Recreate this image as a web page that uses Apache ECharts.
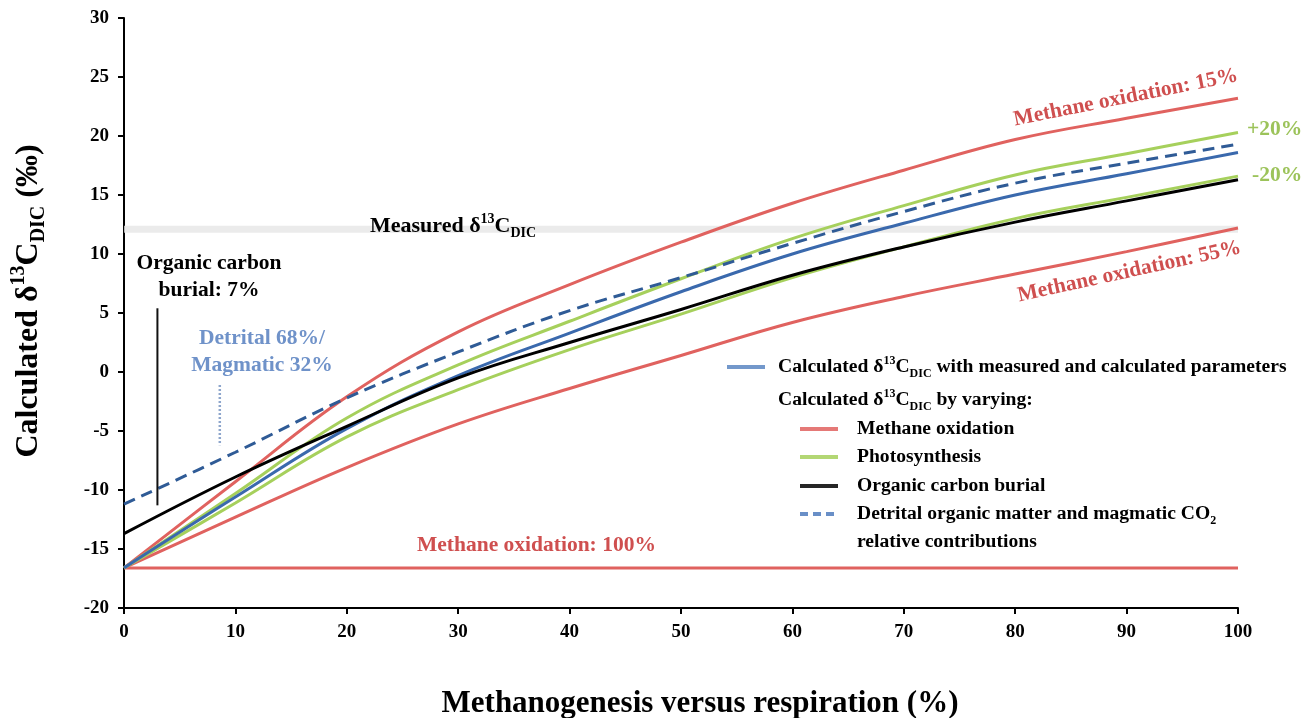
<!DOCTYPE html>
<html>
<head>
<meta charset="utf-8">
<script src="https://cdn.jsdelivr.net/npm/echarts@6/dist/echarts.min.js"></script>
<style>
html,body{margin:0;padding:0;background:#fff;}
#chart{width:1314px;height:718px;}
</style>
</head>
<body>
<div id="chart"></div>
<script>
// ---- data ----
const xValues = [0, 10, 20, 30, 40, 50, 60, 70, 80, 90, 100];
const methane15 = [-16.6, -9.3, -2.1, 3.4, 7.4, 11.0, 14.3, 17.1, 19.7, 21.5, 23.2];
const methane55 = [-16.6, -12.3, -8.1, -4.4, -1.4, 1.4, 4.2, 6.4, 8.3, 10.2, 12.2];
const methane100 = [-16.6, -16.6, -16.6, -16.6, -16.6, -16.6, -16.6, -16.6, -16.6, -16.6, -16.6];
const photoPlus20 = [-16.6, -10.3, -3.9, 0.6, 4.3, 7.9, 11.3, 14.1, 16.7, 18.5, 20.3];
const photoMinus20 = [-16.6, -11.1, -5.5, -1.5, 1.9, 4.9, 8.0, 10.6, 13.0, 14.8, 16.6];
const calculated = [-16.6, -10.6, -4.8, -0.3, 3.3, 6.8, 10.0, 12.6, 15.0, 16.8, 18.6];
const burial7 = [-13.7, -8.9, -4.6, -0.5, 2.5, 5.3, 8.2, 10.6, 12.7, 14.5, 16.3];
const detrital68 = [-11.2, -6.8, -2.2, 1.7, 5.2, 8.0, 10.9, 13.6, 16.0, 17.7, 19.3];
const measuredX = [0, 100];
const measuredValue = [12.1, 12.1];
const burialMarkerX = [3, 3];
const burialMarkerY = [5.4, -11.3];
const detritalMarkerX = [8.6, 8.6];
const detritalMarkerY = [-1.1, -6.2];
const xTicks = { min: 0, max: 100, interval: 10 };
const yTicks = { min: -20, max: 30, interval: 5 };

// ---- styles ----
const SERIF = '"Liberation Serif", "DejaVu Serif", serif';
const RED = '#e0625f';
const RED_TEXT = '#cf4f4f';
const GREEN = '#a6d05c';
const GREEN_TEXT = '#9cc35a';
const BLUE = '#3a69ad';
const DASH = '#2f5b96';
const BLUE_TEXT = '#6f92c9';

function pairs(xs, ys) { return xs.map((x, i) => [x, ys[i]]); }

function curve(name, ys, color, z, extra) {
  return Object.assign({
    name: name, type: 'line', data: pairs(xValues, ys),
    smooth: 0.4, showSymbol: false, symbol: 'none',
    lineStyle: { color: color, width: 3 }, z: z, silent: true, animation: false
  }, extra || {});
}

function richBase(size, color) {
  const sub = Math.round(size * 0.62);
  return {
    t: { fontFamily: SERIF, fontWeight: 'bold', fontSize: size, color: color, lineHeight: Math.round(size * 1.25), verticalAlign: 'middle' },
    sup: { fontFamily: SERIF, fontWeight: 'bold', fontSize: sub, color: color, lineHeight: Math.round(size * 0.85), verticalAlign: 'top' },
    sub: { fontFamily: SERIF, fontWeight: 'bold', fontSize: sub, color: color, lineHeight: Math.round(size * 0.75), verticalAlign: 'bottom' }
  };
}

function txt(x, y, text, size, color, opts) {
  return Object.assign({
    type: 'text', x: x, y: y, silent: true, z: 100,
    style: Object.assign({ text: text, font: 'bold ' + size + 'px ' + SERIF, fill: color, textVerticalAlign: 'middle' }, (opts && opts.style) || {})
  }, (opts && opts.el) || {});
}

function richTxt(x, y, text, size, color, align, rotation) {
  return {
    type: 'text', x: x, y: y, silent: true, z: 100, rotation: rotation || 0,
    style: { text: text, rich: richBase(size, color), fill: color, align: align || 'left', verticalAlign: 'middle' }
  };
}

function swatch(x1, x2, y, color, dash) {
  return {
    type: 'line', silent: true, z: 100,
    shape: { x1: x1, y1: y, x2: x2, y2: y },
    style: { stroke: color, lineWidth: 4, lineDash: dash || null, opacity: 0.85 }
  };
}

const chart = echarts.init(document.getElementById('chart'), null, { renderer: 'canvas' });

const LEG = 19.6;
const ANN = 21.5;

const option = {
  backgroundColor: '#ffffff',
  animation: false,
  grid: { left: 124, right: 76, top: 18, bottom: 110, outerBoundsMode: 'none' },
  xAxis: {
    type: 'value', min: xTicks.min, max: xTicks.max, interval: xTicks.interval,
    axisLine: { show: true, onZero: false, lineStyle: { color: '#000', width: 2 } },
    axisTick: { show: true, length: 6, lineStyle: { color: '#000', width: 2 } },
    axisLabel: { fontFamily: SERIF, fontWeight: 'bold', fontSize: 19, color: '#000', margin: 15 },
    splitLine: { show: false }
  },
  yAxis: {
    type: 'value', min: yTicks.min, max: yTicks.max, interval: yTicks.interval,
    axisLine: { show: true, onZero: false, lineStyle: { color: '#000', width: 2 } },
    axisTick: { show: true, length: 6, lineStyle: { color: '#000', width: 2 } },
    axisLabel: { fontFamily: SERIF, fontWeight: 'bold', fontSize: 19, color: '#000', margin: 15 },
    splitLine: { show: false }
  },
  series: [
    {
      name: 'Measured', type: 'line', data: pairs(measuredX, measuredValue),
      showSymbol: false, symbol: 'none', silent: true, z: 1,
      lineStyle: { color: '#e6e6e6', width: 7, opacity: 0.8 }
    },
    curve('Methane oxidation 100%', methane100, RED, 2),
    curve('Methane oxidation 55%', methane55, RED, 2),
    curve('Methane oxidation 15%', methane15, RED, 2),
    curve('Photosynthesis -20%', photoMinus20, GREEN, 3),
    curve('Photosynthesis +20%', photoPlus20, GREEN, 3),
    curve('Calculated', calculated, BLUE, 4),
    curve('Organic carbon burial 7%', burial7, '#000', 5),
    curve('Detrital 68% / Magmatic 32%', detrital68, DASH, 6, { lineStyle: { color: DASH, width: 3, type: [12, 7] } }),
    {
      name: 'burial marker', type: 'line', data: pairs(burialMarkerX, burialMarkerY),
      showSymbol: false, symbol: 'none', silent: true, z: 7,
      lineStyle: { color: '#111', width: 2 }
    },
    {
      name: 'detrital marker', type: 'line', data: pairs(detritalMarkerX, detritalMarkerY),
      showSymbol: false, symbol: 'none', silent: true, z: 7,
      lineStyle: { color: '#8ea6cc', width: 2.5, type: [2, 2] }
    }
  ],
  graphic: [
    // axis titles
    txt(700, 704, 'Methanogenesis versus respiration (%)', 31, '#000', { style: { align: 'center' } }),
    richTxt(29, 301, '{t|Calculated δ}{sup|13}{t|C}{sub|DIC}{t| (‰)}', 32, '#000', 'center', Math.PI / 2),
    // annotations
    richTxt(370, 226, '{t|Measured δ}{sup|13}{t|C}{sub|DIC}', 22, '#000'),
    txt(209, 263, 'Organic carbon', ANN, '#000', { style: { align: 'center' } }),
    txt(209, 290, 'burial: 7%', ANN, '#000', { style: { align: 'center' } }),
    txt(262, 338, 'Detrital 68%/', ANN, BLUE_TEXT, { style: { align: 'center' } }),
    txt(262, 365, 'Magmatic 32%', ANN, BLUE_TEXT, { style: { align: 'center' } }),
    txt(417, 545, 'Methane oxidation: 100%', ANN, RED_TEXT),
    txt(0, 0, 'Methane oxidation: 15%', ANN, RED_TEXT, { el: { x: 1014, y: 120, rotation: 11.3 * Math.PI / 180 } }),
    txt(0, 0, 'Methane oxidation: 55%', ANN, RED_TEXT, { el: { x: 1018, y: 296, rotation: 12.3 * Math.PI / 180 } }),
    txt(1247, 129, '+20%', ANN, GREEN_TEXT),
    txt(1252, 175, '-20%', ANN, GREEN_TEXT),
    // legend
    swatch(727, 765, 367, '#5b86c2'),
    richTxt(778, 367, '{t|Calculated δ}{sup|13}{t|C}{sub|DIC}{t| with measured and calculated parameters}', LEG, '#000'),
    richTxt(778, 400, '{t|Calculated δ}{sup|13}{t|C}{sub|DIC}{t| by varying:}', LEG, '#000'),
    swatch(800, 838, 429, RED),
    txt(857, 429, 'Methane oxidation', LEG, '#000'),
    swatch(800, 838, 457, GREEN),
    txt(857, 457, 'Photosynthesis', LEG, '#000'),
    swatch(800, 838, 486, '#000'),
    txt(857, 486, 'Organic carbon burial', LEG, '#000'),
    swatch(800, 838, 514, '#4f7bbd', [8, 5]),
    richTxt(857, 514, '{t|Detrital organic matter and magmatic CO}{sub|2}', LEG, '#000'),
    txt(857, 542, 'relative contributions', LEG, '#000')
  ]
};

chart.setOption(option);
</script>
</body>
</html>
